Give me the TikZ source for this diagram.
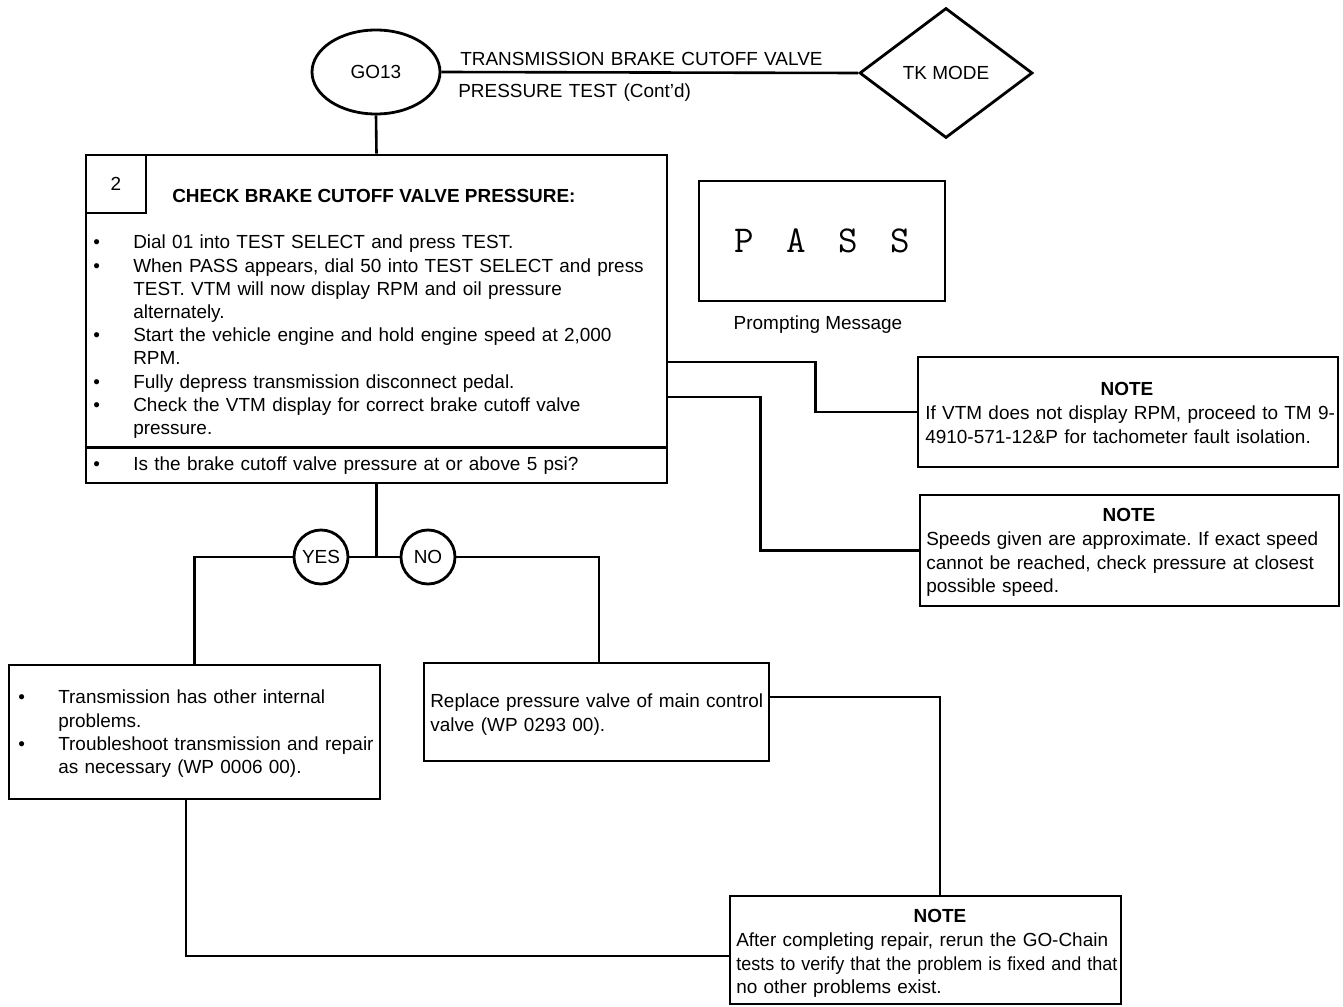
\documentclass[tikz,border=0pt]{standalone}
\usepackage{fontspec}
\setmainfont{Liberation Sans}
\usetikzlibrary{shapes.geometric,calc}
\frenchspacing

% body text size and leading
\newcommand{\fs}{\fontsize{18.95}{23.2}\selectfont}
% bulleted item with hanging indent; lines broken by \newline
\newcommand{\bulitem}[1]{\noindent\hangindent=40pt\hangafter=1\makebox[40pt][l]{\textbullet}#1\par}

\begin{document}
\begin{tikzpicture}[x=1pt,y=-1pt,
  line width=2.6pt,
  box/.style={draw, line width=2.8pt, inner sep=0pt, font=\fs},
  txt/.style={anchor=base west, inner sep=0pt, text width=600pt, align=left, font=\fs},
  head/.style={inner sep=0pt, font=\fs\bfseries},
  conn/.style={line width=2.6pt}
]
\useasboundingbox (0,0) rectangle (1343,1006);

% ---- header row ----
\node[box, ellipse, minimum width=128, minimum height=84] (go) at (376,72) {GO13};
\node[box, diamond, minimum width=173, minimum height=130] (tk) at (946,73) {TK MODE};
\draw[conn] (go.east) -- (tk.west);
\node[txt] (t1) at (459,65.9) {TRANSMISSION BRAKE CUTOFF VALVE};
\node[txt] (t2) at (457,97.9) {PRESSURE TEST (Cont'd)};

% ---- step 2 ----
\node[box, minimum width=581, minimum height=328] (main) at (376.5,319) {};
\node[box, minimum width=60, minimum height=58, anchor=north west] (num) at (main.north west) {2};
\node[head, anchor=base west] (hd) at (171,202.9) {CHECK BRAKE CUTOFF VALVE PRESSURE:};
\draw[conn] (main.west |- 0,447.5) coordinate (dl) -- (main.east |- 0,447.5) coordinate (dr);
\node[txt] (steps) at (92,248.9) {%
  \bulitem{Dial 01 into TEST SELECT and press TEST.}%
  \bulitem{When PASS appears, dial 50 into TEST SELECT and press\newline TEST. VTM will now display RPM and oil pressure\newline alternately.}%
  \bulitem{Start the vehicle engine and hold engine speed at 2,000\newline RPM.}%
  \bulitem{Fully depress transmission disconnect pedal.}%
  \bulitem{Check the VTM display for correct brake cutoff valve\newline pressure.}};
\node[txt] (quest) at (92,470.9) {\bulitem{Is the brake cutoff valve pressure at or above 5 psi?}};
\draw[conn] (go.south) -- (main.north);

% ---- prompting message ----
\node[box, minimum width=246, minimum height=120] (pass) at (822,241)
  {\fontsize{38}{38}\ttfamily\makebox[52pt]{P}\makebox[52pt]{A}\makebox[52pt]{S}\makebox[52pt]{S}};
\node[inner sep=0pt, font=\fs] (pm) at (818,325) {Prompting Message};

% ---- notes at right ----
\node[box, minimum width=420, minimum height=110] (n1) at (1128,412) {};
\node[head] (n1h) at (1127,389) {NOTE};
\node[txt] (n1t) at (924,419.9) {If VTM does not display RPM, proceed to TM 9-\newline 4910-571-12\&P for tachometer fault isolation.};

\node[box, minimum width=419, minimum height=111] (n2) at (1129.5,550.5) {};
\node[head] (n2h) at (1129,515) {NOTE};
\node[txt] (n2t) at (925,545.9) {Speeds given are approximate. If exact speed\newline cannot be reached, check pressure at closest\newline possible speed.};

\draw[conn] (main.east |- 0,362) -- ++(147,0) |- (n1.west);
\draw[conn] (main.east |- 0,397) -- ++(92,0) |- (n2.west);

% ---- decision ----
\node[box, circle, minimum size=54] (yes) at (321,557) {YES};
\node[box, circle, minimum size=54] (no) at (428,557) {NO};
\draw[conn] (main.south) -- (main.south |- yes.east);
\draw[conn] (yes.east) -- (no.west);

\node[box, minimum width=371, minimum height=134] (ybox) at (194.5,732) {};
\node[txt] (ytxt) at (17,703.9) {%
  \bulitem{Transmission has other internal\newline problems.}%
  \bulitem{Troubleshoot transmission and repair\newline as necessary (WP 0006 00).}};

\node[box, minimum width=345, minimum height=98] (nbox) at (596.5,712) {};
\node[txt] (ntxt) at (429,707.9) {Replace pressure valve of main control\newline valve (WP 0293 00).};

\draw[conn] (yes.west) -| (ybox.north);
\draw[conn] (no.east) -| ([xshift=2.5pt]nbox.north);

% ---- final note ----
\node[box, minimum width=391, minimum height=108] (n3) at (925.5,950) {};
\node[head] (n3h) at (940,916) {NOTE};
\node[txt] (n3t) at (735,946.9) {After completing repair, rerun the GO-Chain\newline \scalebox{0.95}[1]{tests to verify that the problem is fixed and that}\newline no other problems exist.};

\draw[conn] (nbox.east |- 0,697) -| ([xshift=14.5pt]n3.north);
\draw[conn] ([xshift=-8.5pt]ybox.south) |- ([yshift=-6pt]n3.west);
\end{tikzpicture}
\end{document}
